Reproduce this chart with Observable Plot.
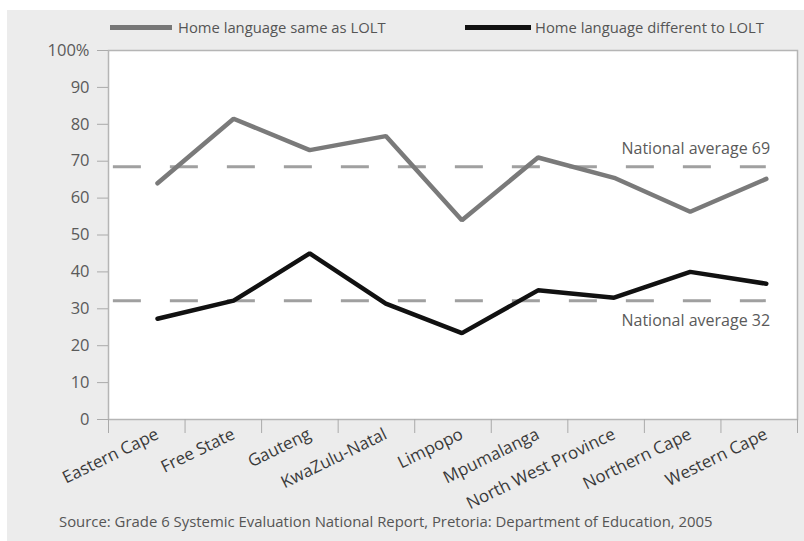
<!DOCTYPE html>
<html>
<head>
<meta charset="utf-8">
<script src="https://cdn.jsdelivr.net/npm/d3@7"></script>
<script src="https://cdn.jsdelivr.net/npm/@observablehq/plot@0.6"></script>
<style>
  html, body { margin: 0; padding: 0; background: #ffffff; width: 804px; height: 541px; overflow: hidden; font-family: "Open Sans", sans-serif; }
  #card { position: absolute; left: 7px; top: 10px; width: 797px; height: 531px; background: #ececec; }
  #chart { position: absolute; left: 0; top: 30px; }
  #chart svg { overflow: visible; }
  .leg { position: absolute; top: 17px; font-size: 14.8px; color: #555; white-space: nowrap; line-height: 20px; }
  .sw { position: absolute; height: 5px; }
  #caption { position: absolute; left: 59px; top: 511px; font-size: 14.9px; color: #555; white-space: nowrap; line-height: 20px; }
</style>
</head>
<body>
<div id="card"></div>
<div id="chart"></div>
<div class="sw" style="left:110px; top:25px; width:62px; background:#777;"></div>
<div class="leg" style="left:178px;">Home language same as LOLT</div>
<div class="sw" style="left:465px; top:25px; width:66px; background:#111;"></div>
<div class="leg" style="left:535px;">Home language different to LOLT</div>
<div id="caption">Source: Grade 6 Systemic Evaluation National Report, Pretoria: Department of Education, 2005</div>
<script>
const provinces = ["Eastern Cape", "Free State", "Gauteng", "KwaZulu-Natal", "Limpopo", "Mpumalanga", "North West Province", "Northern Cape", "Western Cape"];
const sameLOLT = [64, 81.5, 73, 76.8, 54, 71, 65.5, 56.3, 65.2];
const diffLOLT = [27.3, 32.2, 45, 31.4, 23.4, 35, 33, 40, 36.8];
const seriesNames = ["Home language same as LOLT", "Home language different to LOLT"];
const averages = [68.5, 32.2];
const averageLabels = ["National average 69", "National average 32"];
const yTicks = [0, 10, 20, 30, 40, 50, 60, 70, 80, 90, 100];

const rows = [];
provinces.forEach((p, i) => {
  rows.push({i, province: p, series: seriesNames[0], value: sameLOLT[i]});
  rows.push({i, province: p, series: seriesNames[1], value: diffLOLT[i]});
});
const idx = provinces.map((_, i) => i);
const x0 = -0.644, x1 = 8.41;
const boundaries = d3.range(provinces.length + 1).map(k => x0 + k * (x1 - x0) / provinces.length);
const avgTop = [{v: averages[0], label: averageLabels[0]}];
const avgBottom = [{v: averages[1], label: averageLabels[1]}];

const chart = Plot.plot({
  width: 804,
  height: 490,
  marginTop: 20,
  marginBottom: 101,
  marginLeft: 108,
  marginRight: 7,
  style: {background: "transparent", fontFamily: "Open Sans, sans-serif", overflow: "visible"},
  x: {type: "linear", domain: [x0, x1]},
  y: {domain: [0, 100]},
  color: {domain: seriesNames, range: ["#7a7a7a", "#111111"]},
  marks: [
    Plot.frame({fill: "white", stroke: "#b5b5b5", strokeWidth: 1.5}),
    Plot.axisY({ticks: yTicks, tickFormat: d => d === 100 ? "100%" : String(d), tickSize: 11, tickPadding: 8, fontSize: 16.5, fill: "#5a5a5a", stroke: "#aaa", label: null}),
    Plot.axisX({ticks: boundaries, tickFormat: () => "", tickSize: 14, stroke: "#aaa", label: null}),
    Plot.axisX({ticks: idx, tickFormat: i => provinces[i], tickSize: 0, tickRotate: -26, dx: 0, dy: 1, fontSize: 17, fill: "#3a3a3a", label: null}),
    Plot.ruleY(averages, {y: d => d, x1: -0.58, x2: 8.0, stroke: "#a0a0a0", strokeWidth: 3, strokeDasharray: "28,29"}),
    Plot.text(avgTop, {x: 8.05, y: "v", text: "label", textAnchor: "end", dy: -18, fontSize: 16, fill: "#5a5a5a"}),
    Plot.text(avgBottom, {x: 8.05, y: "v", text: "label", textAnchor: "end", dy: 20, fontSize: 16, fill: "#5a5a5a"}),
    Plot.line(rows, {x: "i", y: "value", z: "series", stroke: "series", strokeWidth: 4.5, strokeLinejoin: "miter"})
  ]
});
document.getElementById("chart").appendChild(chart);
</script>
</body>
</html>
